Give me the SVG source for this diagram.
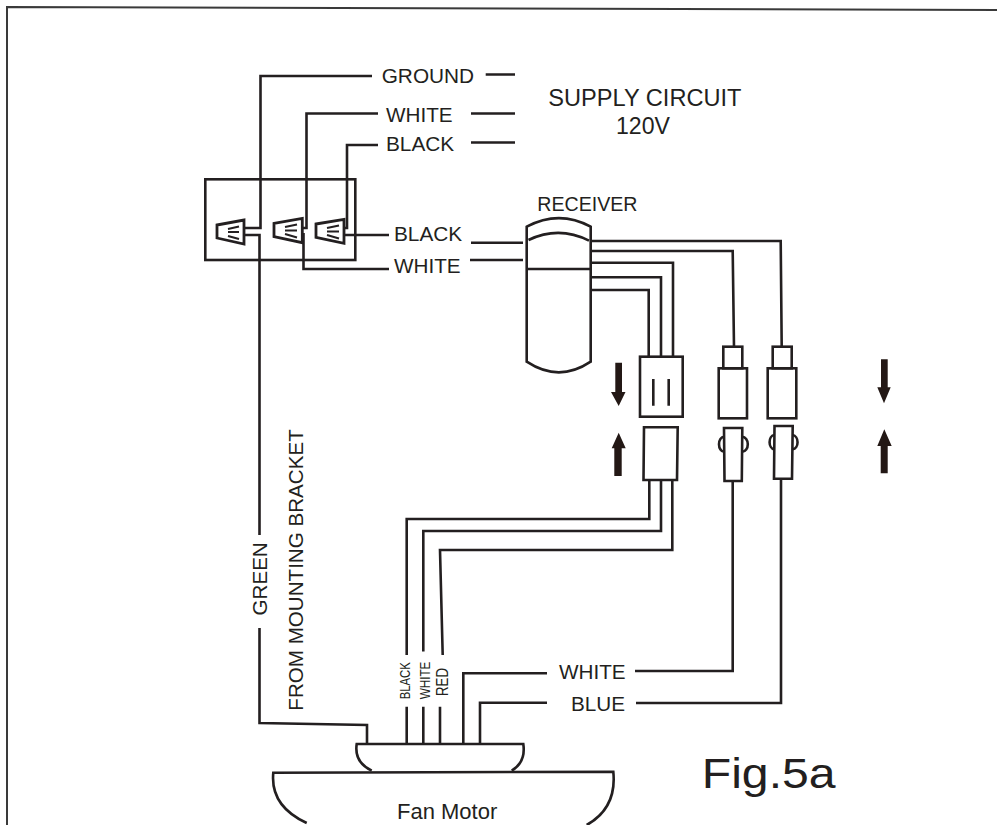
<svg xmlns="http://www.w3.org/2000/svg" width="997" height="825" viewBox="0 0 997 825">
<style>
.w{fill:none;stroke:#231f20;stroke-width:2.6;stroke-linejoin:miter}
.t{fill:none;stroke:#231f20;stroke-width:2}
.c{fill:none;stroke:#231f20;stroke-width:2.8}
.a{fill:#231815;stroke:none}
text{font-family:"Liberation Sans",Arial,sans-serif;fill:#231f20}
</style>
<rect width="997" height="825" fill="#fff"/>
<g id="frame"><path d="M7 825V7L997 10" fill="none" stroke="#3a3a3a" stroke-width="2"/></g>
<g id="connectors">
<path class="w" d="M372 76H260.500V228H245"/>
<path class="w" d="M245 235H259.500V535"/>
<path class="w" d="M259.500 628V723L367 725V744"/>
<path class="w" d="M378 113.500H306.500V228H302"/>
<path class="w" d="M303.500 233V269H389"/>
<path class="w" d="M378 145H347V228H344"/>
<path class="w" d="M345 235H389"/>
<path class="w" d="M485.700 74.500H515M471 113.500H515M471 142.500H515M471 242.700H523M470 260H523"/>
<path class="w" d="M592 241H780.700L781.700 347"/>
<path class="w" d="M592 251H732.700L734 347"/>
<path class="w" d="M591 262.700H673V357"/>
<path class="w" d="M591 277.300H661V357"/>
<path class="w" d="M592 290H648.700V357"/>
<path class="w" d="M649.300 480V519H406.700V655M406.700 706.700V744"/>
<path class="w" d="M661 480V531H423.300V651.500M423.300 706.700V744"/>
<path class="w" d="M672.300 480V550H440L442.700 655M440 706.700V744"/>
<path class="w" d="M732.700 481V671H635"/>
<path class="w" d="M781 479V703H636"/>
<path class="w" d="M547 673.300H463.300V744"/>
<path class="w" d="M547 702.700H480V744"/>
</g>
<g id="junction-box"><rect x="205.300" y="179.300" width="150" height="80.700" class="w"/></g>
<g id="wire-nut-1">
<path class="c" d="M217 225L244 220V244L217 238Z"/>
<path class="t" d="M228 229L239 226.500M228 232H239M228 236L239 239"/>
</g>
<g id="wire-nut-2">
<path class="c" d="M274 223.300L302.300 218.300V242.700L274 236.700Z"/>
<path class="t" d="M285 227L297 224.500M285 230.500H297M285 234L297 237.500"/>
</g>
<g id="wire-nut-3">
<path class="c" d="M316 224L344 219.300V243.300L316 237.300Z"/>
<path class="t" d="M327 228L339 225.500M327 231.500H339M327 235L339 238.500"/>
</g>
<g id="receiver">
<path class="w" d="M526.700 226.700Q559 209.500 590.700 226.700V361.700Q559 383 526.700 361.700Z"/>
<path class="w" d="M528.500 240Q559 225.500 589 240.700"/>
<path class="w" d="M527 269H590"/>
</g>
<g id="plug-3pin">
<rect x="640" y="356.700" width="42.700" height="60" class="w"/>
<path class="w" d="M653.300 379V405.700M668.700 379V405.700"/>
</g>
<g id="socket-3pin"><path class="w" d="M644 427.300H677.700L677 480H643.500Z"/></g>
<g id="plug-white">
<rect x="723.300" y="346.700" width="19" height="21.600" class="w"/>
<rect x="718.700" y="368.300" width="28.300" height="50" class="w"/>
</g>
<g id="plug-blue">
<rect x="772.700" y="346.700" width="19" height="21.600" class="w"/>
<rect x="767.700" y="368.300" width="28.600" height="50" class="w"/>
</g>
<g id="socket-white">
<path class="w" d="M724 436.700A5 7.500 0 0 0 724 451.700M742.300 436.700A5.500 7.500 0 0 1 742.300 451.700"/>
<path class="w" d="M724 428H742.300L741.800 481H724.500Z"/>
</g>
<g id="socket-blue">
<path class="w" d="M774 435A5 7.200 0 0 0 774 449.300M792.700 435A5.500 7.200 0 0 1 792.700 449.300"/>
<path class="w" d="M774.500 426H792.700L792 478.700H774Z"/>
</g>
<g id="arrows">
<path class="a" d="M615.300 362.700H622V392H625.500L618.700 406L611 392H615.300Z"/>
<path class="a" d="M618.700 432.700L625.700 448.300H621.700V476H614.300V448.300H611.700Z"/>
<path class="a" d="M881 359.300H887.700V387.300H890.700L884 403.300L877.300 387.300H881Z"/>
<path class="a" d="M884.300 429.300L891.700 446H887.700V473.300H880.700V446H877.300Z"/>
</g>
<g id="canopy"><path class="w" d="M371.700 770.700Q354 762 356.700 744H523.300Q526 762 511.700 770.700"/></g>
<g id="fan-motor">
<path class="w" d="M306.700 823Q270 806 273.300 772.700L613.300 771.700Q617 808 586.700 825"/>
<text x="397" y="819.300" font-size="22">Fan Motor</text>
</g>
<g id="labels">
<text x="381.700" y="83.300" font-size="20.800">GROUND</text>
<text x="386" y="121.700" font-size="20.700">WHITE</text>
<text x="386" y="150.700" font-size="20.800">BLACK</text>
<text x="394" y="240.700" font-size="20.800">BLACK</text>
<text x="394" y="272.700" font-size="20.700">WHITE</text>
<text x="548.300" y="106" font-size="23.600">SUPPLY CIRCUIT</text>
<text x="616" y="134.300" font-size="23.100">120V</text>
<text x="537.300" y="210.700" font-size="19.600">RECEIVER</text>
<text x="559" y="679" font-size="20.700">WHITE</text>
<text x="571" y="711" font-size="20.700">BLUE</text>
<text x="701.700" y="788.300" font-size="42" textLength="134" lengthAdjust="spacingAndGlyphs">Fig.5a</text>
<text transform="translate(266.500 615.500) rotate(-90)" font-size="20.600">GREEN</text>
<text transform="translate(303.300 710.700) rotate(-90)" font-size="20.600">FROM MOUNTING BRACKET</text>
<text transform="translate(410 699.300) rotate(-90)" font-size="14.500" textLength="37" lengthAdjust="spacingAndGlyphs">BLACK</text>
<text transform="translate(430 699.300) rotate(-90)" font-size="15" textLength="37.700" lengthAdjust="spacingAndGlyphs">WHITE</text>
<text transform="translate(448 696) rotate(-90)" font-size="17" textLength="28" lengthAdjust="spacingAndGlyphs">RED</text>
</g>
</svg>
